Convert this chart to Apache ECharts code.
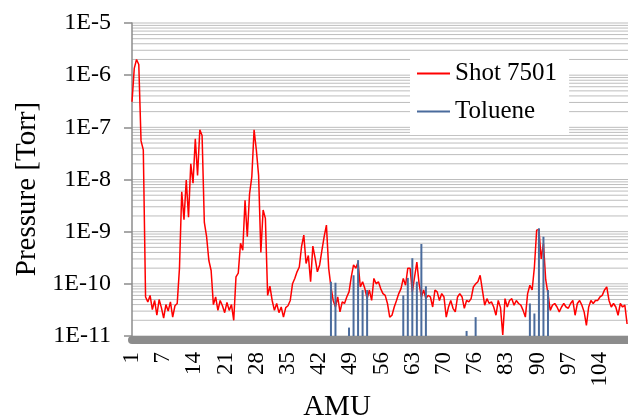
<!DOCTYPE html>
<html>
<head>
    <meta charset="utf-8">
    <title>Shot 7501 vs Toluene</title>
    <script src="https://cdn.jsdelivr.net/npm/echarts@6.0.0/dist/echarts.min.js"></script>
</head>
<body style="margin:0">
<div id="main" style="width: 628px;height:419px;"></div>
<script type="text/javascript">
    // shot 7501 spectrum, one reading every half AMU starting at AMU 1
    var amuStart = 1;
    var amuStep = 0.5;
    var shotPressure = [
        3.1e-7, 1.35e-6, 2.0e-6, 1.6e-6, 5.5e-8, 3.7e-8, 5.6e-11, 4.5e-11, 6e-11, 3.2e-11,
        4.8e-11, 2.5e-11, 5e-11, 3.5e-11, 2.2e-11, 4e-11, 3e-11, 4.5e-11, 2.3e-11, 3.8e-11,
        4.2e-11, 2e-10, 5.8e-9, 1.7e-9, 9.8e-9, 1.9e-9, 2e-8, 8.5e-9, 6e-8, 1.2e-8,
        9e-8, 7e-8, 1.5e-9, 8e-10, 2.8e-10, 1.8e-10, 4e-11, 5.6e-11, 3.1e-11, 4.8e-11,
        3.8e-11, 2.8e-11, 4.4e-11, 3.1e-11, 4e-11, 2e-11, 1.36e-10, 1.6e-10, 6e-10, 4.4e-10,
        4e-9, 8e-10, 5.3e-9, 1.13e-8, 9e-8, 3.7e-8, 1.2e-8, 4e-10, 2.6e-9, 1.8e-9,
        6e-11, 9e-11, 4.8e-11, 3.1e-11, 4.2e-11, 2.8e-11, 3.6e-11, 2.3e-11, 3.5e-11, 3.8e-11,
        4.8e-11, 1e-10, 1.27e-10, 1.7e-10, 2.1e-10, 5.2e-10, 8.6e-10, 2.45e-10, 3.5e-10, 1.1e-10,
        5.3e-10, 3.1e-10, 1.7e-10, 2.3e-10, 4.4e-10, 8e-10, 1.34e-9, 2e-10, 8.7e-11, 4.8e-11,
        3.6e-11, 5.6e-11, 2.9e-11, 4.5e-11, 4.2e-11, 5.6e-11, 7e-11, 1.36e-10, 2.3e-10, 2e-10,
        2.6e-10, 8.7e-11, 1.1e-10, 8.1e-11, 5.2e-11, 7.6e-11, 4.8e-11, 1.27e-10, 1e-10, 1.1e-10,
        8.1e-11, 6.5e-11, 6e-11, 4.2e-11, 2.3e-11, 2.5e-11, 3.6e-11, 4.8e-11, 6.5e-11, 8.1e-11,
        1.27e-10, 9.4e-11, 2e-10, 2e-10, 7e-11, 1.36e-10, 2.6e-10, 1e-10, 5.6e-11, 7.6e-11,
        5.2e-11, 6e-11, 5.6e-11, 3.6e-11, 7.6e-11, 7e-11, 4.8e-11, 6.5e-11, 5.6e-11, 2.3e-11,
        3.6e-11, 4.8e-11, 3.4e-11, 2.9e-11, 5.6e-11, 6.5e-11, 5.6e-11, 3.4e-11, 4.8e-11, 4.5e-11,
        5.2e-11, 8.7e-11, 1e-10, 1.1e-10, 1.46e-10, 7.6e-11, 3.9e-11, 5.2e-11, 4.2e-11, 4.5e-11,
        3.6e-11, 2.5e-11, 4.8e-11, 3.5e-11, 1.05e-11, 5.2e-11, 3.6e-11, 4.8e-11, 5.2e-11, 3.9e-11,
        4.8e-11, 4.2e-11, 3.9e-11, 3.1e-11, 2.3e-11, 6.5e-11, 9.4e-11, 7.6e-11, 2.1e-10, 1.07e-9,
        1.1e-9, 3e-10, 6e-10, 1.2e-10, 6.5e-11, 3.1e-11, 3.9e-11, 4.2e-11, 3.6e-11, 2.9e-11,
        3.6e-11, 4.2e-11, 3.6e-11, 3.4e-11, 4.2e-11, 4.8e-11, 2.5e-11, 4.2e-11, 4.8e-11, 3.9e-11,
        2.9e-11, 1.6e-11, 3.6e-11, 4.8e-11, 4.2e-11, 4.8e-11, 4.8e-11, 5.6e-11, 6e-11, 7.6e-11,
        8.7e-11, 4.8e-11, 3.6e-11, 4.2e-11, 3.6e-11, 2.5e-11, 4.2e-11, 3.6e-11, 3.9e-11, 1.7e-11
    ];

    // toluene reference lines
    var tolueneAmu = [45, 46, 49, 50, 51, 52, 53, 61, 62, 63, 64, 65, 66, 75, 77, 89, 90, 91, 92, 93];
    var toluenePressure = [1.1e-10, 1.05e-10, 1.45e-11, 1.46e-10, 2.85e-10, 7.6e-11, 7.6e-11, 6e-11, 1.3e-10, 3.1e-10,
        1.1e-10, 5.8e-10, 9e-11, 1.25e-11, 2.3e-11, 4.2e-11, 2.7e-11, 1.16e-9, 8e-10, 7.6e-11];

    // x tick labels (excel shows the truncated mass)
    var xTickValues = [1, 7.9, 14.8, 21.7, 28.6, 35.5, 42.4, 49.3, 56.2, 63.1, 70, 76.9, 83.8, 90.7, 97.6, 104.5];
    var xTickLabels = ['1', '7', '14', '21', '28', '35', '42', '49', '56', '63', '70', '76', '83', '90', '97', '104'];
    var yTickLabels = ['1E-11', '1E-10', '1E-9', '1E-8', '1E-7', '1E-6', '1E-5'];

    // log gridlines: 1..9 in every decade
    var gridDecades = [1e-11, 1e-10, 1e-9, 1e-8, 1e-7, 1e-6];
    var gridSteps = [1, 2, 3, 4, 5, 6, 7, 8, 9];

    var yMin = 1e-11, yMax = 1e-5;
    var xMin = 1, xMax = 110.7;
    var serif = 'Liberation Serif';

    var shotData = [];
    for (var i = 0; i < shotPressure.length; i++) {
        shotData.push([amuStart + i * amuStep, shotPressure[i]]);
    }
    var tolData = [];
    for (var j = 0; j < tolueneAmu.length; j++) {
        tolData.push([tolueneAmu[j], toluenePressure[j]]);
    }
    var gridData = [];
    gridDecades.forEach(function (d) {
        gridSteps.forEach(function (s) { gridData.push([xMin, d * s]); });
    });
    gridData.push([xMin, yMax]);

    var myChart = echarts.init(document.getElementById('main'));

    var option = {
        animation: false,
        grid: {left: 132, top: 23, right: 0, bottom: 83},
        legend: {
            orient: 'vertical',
            left: 410,
            top: 55,
            padding: [6, 12, 11, 7],
            itemGap: 13,
            itemWidth: 33,
            itemHeight: 2,
            icon: 'rect',
            backgroundColor: '#fff',
            textStyle: {fontFamily: serif, fontSize: 25, color: '#000'},
            data: [
                {name: 'Shot 7501', itemStyle: {color: '#ff0000'}},
                {name: 'Toluene', itemStyle: {color: '#4a6b9c'}}
            ]
        },
        xAxis: {
            type: 'value',
            min: xMin,
            max: xMax,
            offset: 4,
            axisLine: {show: true, lineStyle: {color: '#8c8c8c', width: 8}},
            axisTick: {show: false},
            splitLine: {show: false},
            axisLabel: {
                customValues: xTickValues,
                rotate: 90,
                margin: 12,
                fontFamily: serif,
                fontSize: 23,
                color: '#000',
                formatter: function (v) {
                    for (var k = 0; k < xTickValues.length; k++) {
                        if (Math.abs(xTickValues[k] - v) < 0.01) return xTickLabels[k];
                    }
                    return '';
                }
            }
        },
        yAxis: {
            type: 'log',
            logBase: 10,
            min: yMin,
            max: yMax,
            splitNumber: 6,
            axisLine: {show: true, lineStyle: {color: '#8c8c8c', width: 1.5}},
            axisTick: {show: true, length: 8, lineStyle: {color: '#8c8c8c', width: 1.5}},
            splitLine: {show: false},
            axisLabel: {
                margin: 21,
                fontFamily: serif,
                fontSize: 24,
                color: '#000',
                formatter: function (v) {
                    return yTickLabels[Math.round(Math.log10(v)) + 11];
                }
            }
        },
        graphic: [
            {
                type: 'text', x: 27, y: 189, rotation: Math.PI / 2,
                style: {text: 'Pressure [Torr]', font: '29px "Liberation Serif"', fill: '#000',
                    textAlign: 'center', textVerticalAlign: 'middle'}
            },
            {
                type: 'text', x: 337, y: 407,
                style: {text: 'AMU', font: '29px "Liberation Serif"', fill: '#000',
                    textAlign: 'center', textVerticalAlign: 'middle'}
            }
        ],
        series: [
            {
                name: 'grid',
                type: 'custom',
                silent: true,
                z: 0,
                data: gridData,
                encode: {x: 0, y: 1},
                renderItem: function (params, api) {
                    var cs = params.coordSys;
                    var p = api.coord([api.value(0), api.value(1)]);
                    return {
                        type: 'line',
                        shape: {x1: cs.x, y1: p[1], x2: cs.x + cs.width, y2: p[1]},
                        style: {stroke: '#bdbdbd', lineWidth: 1}
                    };
                }
            },
            {
                name: 'Shot 7501',
                type: 'line',
                data: shotData,
                showSymbol: false,
                symbol: 'none',
                z: 3,
                lineStyle: {color: '#ff0000', width: 1.5},
                itemStyle: {color: '#ff0000'}
            },
            {
                name: 'Toluene',
                type: 'custom',
                z: 4,
                data: tolData,
                encode: {x: 0, y: 1},
                itemStyle: {color: '#4a6b9c'},
                renderItem: function (params, api) {
                    var top = api.coord([api.value(0), api.value(1)]);
                    var base = api.coord([api.value(0), yMin]);
                    return {
                        type: 'line',
                        shape: {x1: top[0], y1: base[1], x2: top[0], y2: top[1]},
                        style: {stroke: '#4a6b9c', lineWidth: 2}
                    };
                }
            }
        ]
    };

    myChart.setOption(option);
</script>
</body>
</html>
